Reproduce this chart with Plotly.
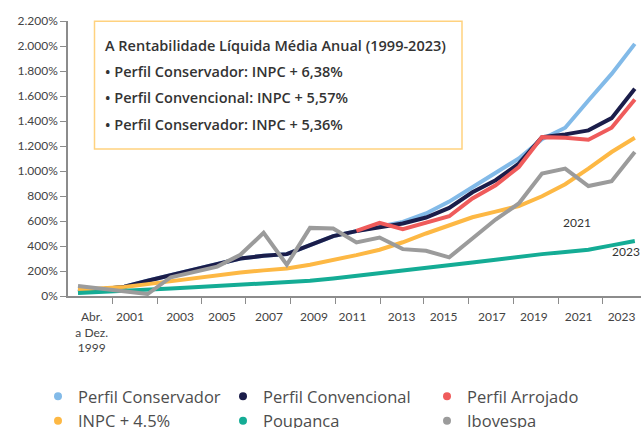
import plotly.graph_objects as go

# ---------------- data ----------------
years = list(range(1999, 2024))
year_labels = ["Abr.<br>a Dez.<br>1999", "2001", "2003", "2005", "2007", "2009", "2011",
               "2013", "2015", "2017", "2019", "2021", "2023"]
y_tick_values = [0, 200, 400, 600, 800, 1000, 1200, 1400, 1600, 1800, 2000, 2200]
y_tick_labels = ["0%", "200%", "400%", "600%", "800%", "1.000%", "1.200%", "1.400%",
                 "1.600%", "1.800%", "2.000%", "2.200%"]

conservador = [35, 53, 74, 122, 168, 213, 255, 300, 322, 335, 407, 479, 519, 553,
               593, 660, 755, 870, 985, 1100, 1255, 1346, 1564, 1777, 2017]
convencional = [35, 53, 74, 122, 168, 213, 255, 300, 322, 335, 407, 479, 519, 553,
                580, 628, 705, 830, 926, 1059, 1270, 1293, 1325, 1423, 1658]
arrojado = [None, None, None, None, None, None, None, None, None, None, None, None,
            521, 585, 535, 585, 638, 780, 886, 1032, 1271, 1266, 1250, 1346, 1572]
inpc = [50, 58, 72, 95, 120, 145, 168, 188, 205, 220, 250, 287, 327, 370,
        430, 500, 567, 630, 675, 720, 798, 894, 1019, 1152, 1266]
poupanca = [25, 32, 40, 50, 60, 70, 80, 90, 100, 110, 122, 140, 160, 180,
            200, 222, 245, 268, 290, 315, 335, 352, 370, 405, 440]
ibovespa = [80, 61, 40, 16, 150, 195, 235, 330, 505, 250, 545, 540, 428, 468,
            375, 362, 309, 460, 612, 740, 979, 1019, 880, 918, 1152]

series = [
    ("Perfil Conservador", conservador, "#82BAE8", "legend"),
    ("Perfil Convencional", convencional, "#1B1D4A", "legend2"),
    ("Perfil Arrojado", arrojado, "#EF5B5B", "legend3"),
    ("INPC + 4.5%", inpc, "#FDB844", "legend"),
    ("Poupanca", poupanca, "#14AC95", "legend2"),
    ("Ibovespa", ibovespa, "#9B9B9B", "legend3"),
]

box_title = "A Rentabilidade Líquida Média Anual (1999-2023)"
box_lines = ["• Perfil Conservador: INPC + 6,38%",
             "• Perfil Convencional: INPC + 5,57%",
             "• Perfil Conservador: INPC + 5,36%"]

# ---------------- figure ----------------
W, H = 641, 428
ML, MR, MT, MB = 68, 0, 20.7, 131.7
PW, PH = W - ML - MR, H - MT - MB

def px_x(p):  # pixel -> paper x
    return (p - ML) / PW

def px_y(p):  # pixel -> paper y
    return (H - MB - p) / PH

fig = go.Figure()
for name, vals, color, lg in series:
    fig.add_trace(go.Scatter(x=years, y=vals, mode="lines", name=name,
                             line=dict(color=color, width=4), showlegend=False,
                             hoverinfo="skip"))
# legend entries (circle markers)
for name, vals, color, lg in series:
    fig.add_trace(go.Scatter(x=[None], y=[None], mode="markers", name=name,
                             marker=dict(color=color, size=8), legend=lg))

x_range = [1998.569, 2023.267]
label_pos = [1999.59, 2001.24, 2003.40, 2005.20, 2007.23, 2009.17, 2010.83,
             2012.95, 2014.76, 2016.84, 2018.65, 2020.58, 2022.43]
tick_pos = [1998.53, 2000.47, 2002.41, 2004.34, 2006.24, 2008.18, 2010.08,
            2012.02, 2013.91, 2015.85, 2017.75, 2019.69, 2021.59]

tick_font = dict(family="Lato", size=12, color="#444444")
fig.update_layout(
    width=W, height=H,
    margin=dict(l=ML, r=MR, t=MT, b=MB, autoexpand=False),
    paper_bgcolor="white", plot_bgcolor="white",
    xaxis=dict(range=x_range, showgrid=False, zeroline=False,
               showline=True, linecolor="#8C8C8C", linewidth=1.5,
               tickmode="array", tickvals=label_pos, ticktext=year_labels,
               ticks="", tickfont=tick_font, ticklabelstandoff=9,
               minor=dict(tickmode="array", tickvals=tick_pos, ticks="outside",
                          ticklen=6, tickcolor="#8C8C8C", tickwidth=1.2),
               automargin=False, fixedrange=True),
    yaxis=dict(range=[0, 2200], showgrid=False, zeroline=False,
               showline=True, linecolor="#8C8C8C", linewidth=1.5,
               tickmode="array", tickvals=y_tick_values, ticktext=y_tick_labels,
               ticks="outside", ticklen=6, tickcolor="#8C8C8C", tickwidth=1.2,
               tickfont=tick_font, automargin=False, fixedrange=True),
    showlegend=True,
)

leg_font = dict(family="Open Sans", size=16.5, color="#4D4D4D")
leg_common = dict(orientation="v", yanchor="top", xanchor="left", font=leg_font,
                  bgcolor="rgba(0,0,0,0)", borderwidth=0, itemclick=False,
                  tracegroupgap=0)
top = px_y(379.5)
fig.update_layout(
    legend=dict(x=px_x(38), y=top, **leg_common),
    legend2=dict(x=px_x(223), y=top, **leg_common),
    legend3=dict(x=px_x(427), y=top, **leg_common),
)

# text box
fig.add_shape(type="rect", xref="paper", yref="paper",
              x0=px_x(94.5), x1=px_x(462), y0=px_y(149), y1=px_y(21),
              line=dict(color="#FFD27F", width=1.5), fillcolor="rgba(0,0,0,0)")
box_font = dict(family="Open Sans", size=14.5, color="#333333", weight=600)
fig.add_annotation(text=box_title, xref="paper", yref="paper", x=px_x(103),
                   y=px_y(45), xanchor="left", yanchor="middle", showarrow=False,
                   font=box_font)
for i, line in enumerate(box_lines):
    fig.add_annotation(text=line, xref="paper", yref="paper", x=px_x(103),
                       y=px_y(71.5 + 26.3 * i), xanchor="left", yanchor="middle",
                       showarrow=False, font=box_font)

# stray year labels inside the plot
fig.add_annotation(text="2021", x=2020.5, y=590, showarrow=False,
                   font=dict(family="Lato", size=12, color="#333333"))
fig.add_annotation(text="2023", x=2022.6, y=359, showarrow=False,
                   font=dict(family="Lato", size=12, color="#333333"))

fig.write_html("out.html",
               config={"displayModeBar": False},
               post_script="document.body.style.margin='0';"
                           "document.body.style.padding='0';"
                           "document.body.style.overflow='hidden';")
